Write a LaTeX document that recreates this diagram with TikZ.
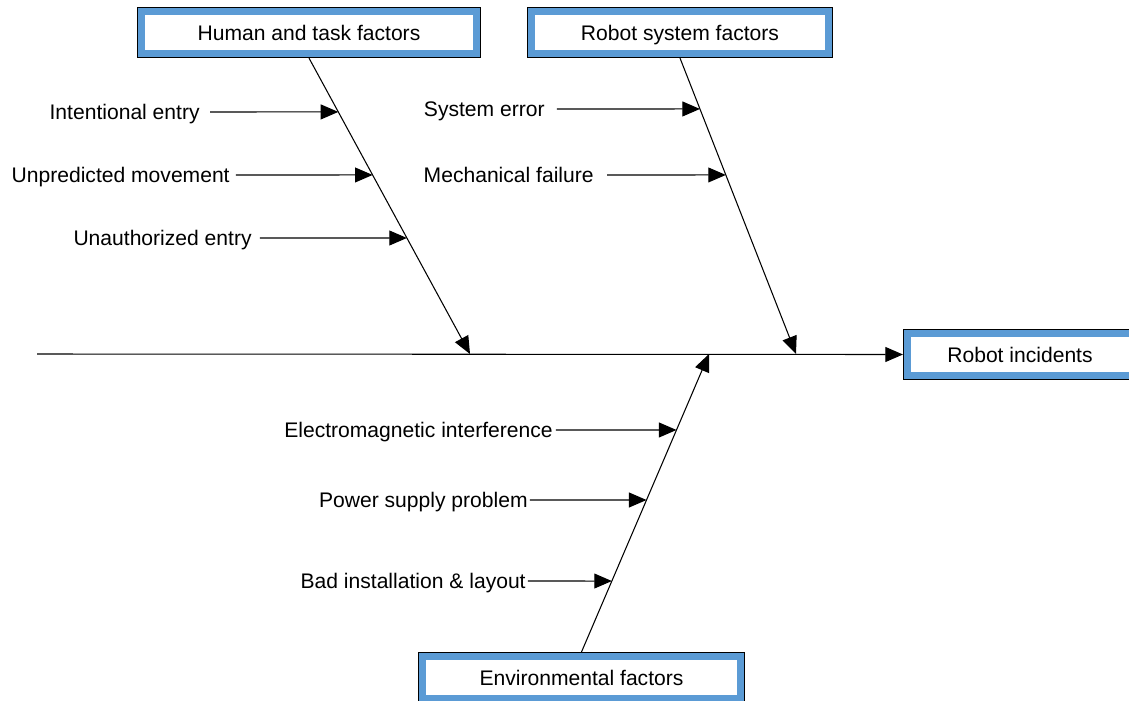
\documentclass[tikz,border=0pt]{standalone}
\usepackage{fontspec}
\setmainfont{Liberation Sans}
\usetikzlibrary{arrows.meta,calc}
\definecolor{boxblue}{RGB}{91,155,213}
\tikzset{
 factor/.style={draw=boxblue, line width=3.6pt, fill=white, preaction={draw=black, line width=5.2pt}, minimum height=0.84cm, outer sep=2.6pt, text height=8.6pt, text depth=0pt, font=\fontsize{12}{14}\selectfont},
 cause/.style={anchor=east, inner sep=0pt, text height=8.6pt, text depth=0pt, font=\fontsize{12}{14}\selectfont},
 arr/.style={line width=0.6pt, -{Triangle[length=10pt,width=8.5pt]}}
}
\begin{document}
\begin{tikzpicture}[x=0.02cm, y=-0.02cm]
\clip (0,0) rectangle (1129,700);
\node[factor, minimum width=6.70cm] (hum) at (309,32.5) {Human and task factors};
\node[factor, minimum width=5.94cm] (rob) at (680,32.5) {Robot system factors};
\node[factor, minimum width=4.50cm] (inc) at (1020,354.5) {Robot incidents};
\node[factor, minimum width=6.36cm] (env) at (581.5,677.5) {Environmental factors};
\coordinate (tail) at (37,354);
\coordinate (h) at (470,354);
\coordinate (r) at (796,354);
\coordinate (e) at (709,354);
\draw[arr] (tail) -- (inc.west);
\draw[arr] (hum.south) -- (h);
\draw[arr] (rob.south) -- (r);
\draw[arr] (env.north) -- (e);
% human and task
\node[cause] (c1) at (200,112) {Intentional entry};
\node[cause] (c2) at (230,175) {Unpredicted movement};
\node[cause] (c3) at (252,238) {Unauthorized entry};
\draw[arr, shorten <=5.7pt] (c1.east) -- ($(hum.south)!0.182!(h)$);
\draw[arr, shorten <=3.4pt] (c2.east) -- ($(hum.south)!0.395!(h)$);
\draw[arr, shorten <=4.5pt] (c3.east) -- ($(hum.south)!0.608!(h)$);
% robot system
\node[cause] (c4) at (545,109) {System error};
\node[cause] (c5) at (594,175) {Mechanical failure};
\draw[arr, shorten <=6.8pt] (c4.east) -- ($(rob.south)!0.172!(r)$);
\draw[arr, shorten <=7.4pt] (c5.east) -- ($(rob.south)!0.395!(r)$);
% environmental
\node[cause] (c6) at (553,430) {Electromagnetic interference};
\node[cause] (c7) at (528,500) {Power supply problem};
\node[cause] (c8) at (526,581) {Bad installation \& layout};
\draw[arr, shorten <=1.7pt] (c6.east) -- ($(env.north)!0.745!(e)$);
\draw[arr, shorten <=1.1pt] (c7.east) -- ($(env.north)!0.510!(e)$);
\draw[arr, shorten <=1.1pt] (c8.east) -- ($(env.north)!0.238!(e)$);
\end{tikzpicture}
\end{document}
